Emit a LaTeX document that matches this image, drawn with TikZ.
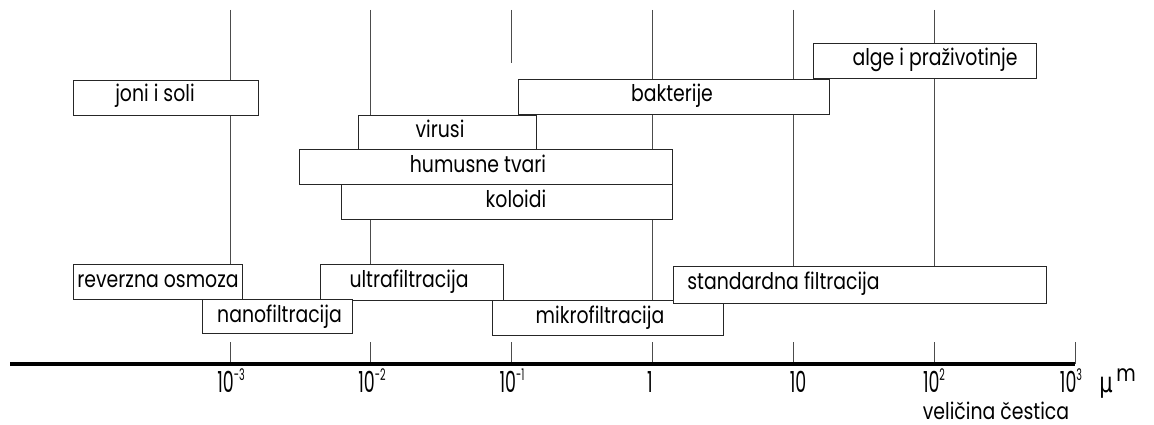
\documentclass[tikz,border=0pt]{standalone}
\usepackage{fontspec}
\usepackage{graphicx}
\setmainfont{Poppins}
\newfontfamily\dejavu{DejaVu Sans}
\newcommand\hsc[1]{\scalebox{0.82}[1]{#1}}
\newcommand\nsc[1]{\scalebox{0.6}[1]{#1}}
\newcommand\expo[1]{\raisebox{12pt}{\fontsize{16}{16}\selectfont #1}}
\tikzset{
  box/.style={draw=black!85, line width=0.9pt, fill=white, inner sep=0pt},
  lbl/.style={anchor=base, inner sep=0pt, font=\fontsize{23}{23}\selectfont},
  numlbl/.style={anchor=base, inner sep=0pt, font=\fontsize{29}{29}\selectfont},
  vline/.style={draw=black!70, line width=0.9pt},
}
\begin{document}
\begin{tikzpicture}[x=1pt,y=-1pt]
\useasboundingbox (0,0) rectangle (1154,425);
% vertical guide lines
\draw[vline] (230,10) -- (230,264);
\draw[vline] (370,10) -- (370,264);
\draw[vline] (511,10) -- (511,63);
\draw[vline] (652,10) -- (652,300);
\draw[vline] (793,10) -- (793,266);
\draw[vline] (934,10) -- (934,266);
% ticks
\foreach \x in {230,370,511,652,793,934,1075}
  \draw[vline] (\x,342) -- (\x,364);
% axis
\draw[line width=3.5pt] (10,364) -- (1075,364);
% boxes
\node[box, minimum width=185pt, minimum height=35pt] (joni) at (165.5,97.5) {};
\node[lbl] (tjoni) at (155,102) {\hsc{joni i soli}};
\node[box, minimum width=223pt, minimum height=35pt] (alge) at (924.5,60.5) {};
\node[lbl] (talge) at (935,66) {\hsc{alge i praživotinje}};
\node[box, minimum width=311.5pt, minimum height=35pt] (bakt) at (674,96.5) {};
\node[lbl] (tbakt) at (672,102) {\hsc{bakterije}};
\node[box, minimum width=178pt, minimum height=34pt] (vir) at (447,132) {};
\node[lbl] (tvir) at (440,138) {\hsc{virusi}};
\node[box, minimum width=373pt, minimum height=35pt] (hum) at (485.5,166.5) {};
\node[lbl] (thum) at (478,172) {\hsc{humusne tvari}};
\node[box, minimum width=331pt, minimum height=35pt] (kol) at (506.5,201.5) {};
\node[lbl] (tkol) at (516,207) {\hsc{koloidi}};
\node[box, minimum width=169pt, minimum height=35pt] (rev) at (157.5,281.5) {};
\node[lbl] (trev) at (158,287) {\hsc{reverzna osmoza}};
\node[box, minimum width=183pt, minimum height=36pt] (ultra) at (411.5,282) {};
\node[lbl] (tultra) at (409,287) {\hsc{ultrafiltracija}};
\node[box, minimum width=149.5pt, minimum height=34pt] (nano) at (277.25,316) {};
\node[lbl] (tnano) at (279.5,322) {\hsc{nanofiltracija}};
\node[box, minimum width=231pt, minimum height=35pt] (mikro) at (607.5,317.5) {};
\node[lbl] (tmikro) at (600,323) {\hsc{mikrofiltracija}};
\node[box, minimum width=373pt, minimum height=37pt] (std) at (859.5,284.5) {};
\node[lbl] (tstd) at (783.5,289) {\hsc{standardna filtracija}};
% axis labels
\node[numlbl] (l1) at (231,392) {\nsc{10\expo{-3}}};
\node[numlbl] (l2) at (372,392) {\nsc{10\expo{-2}}};
\node[numlbl] (l3) at (512,392) {\nsc{10\expo{-1}}};
\node[numlbl] (l4) at (650,392) {\nsc{1}};
\node[numlbl] (l5) at (798,392) {\nsc{10}};
\node[numlbl] (l6) at (934,392) {\nsc{10\expo{2}}};
\node[numlbl] (l7) at (1071,392) {\nsc{10\expo{3}}};
\node[anchor=base, inner sep=0pt, font=\dejavu\fontsize{28}{28}\selectfont] (mu) at (1106,392) {\scalebox{0.75}[1]{μ}};
\node[lbl] (m) at (1126,381) {\hsc{m}};
\node[lbl] (vel) at (996,419) {\hsc{veličina čestica}};
\end{tikzpicture}
\end{document}
